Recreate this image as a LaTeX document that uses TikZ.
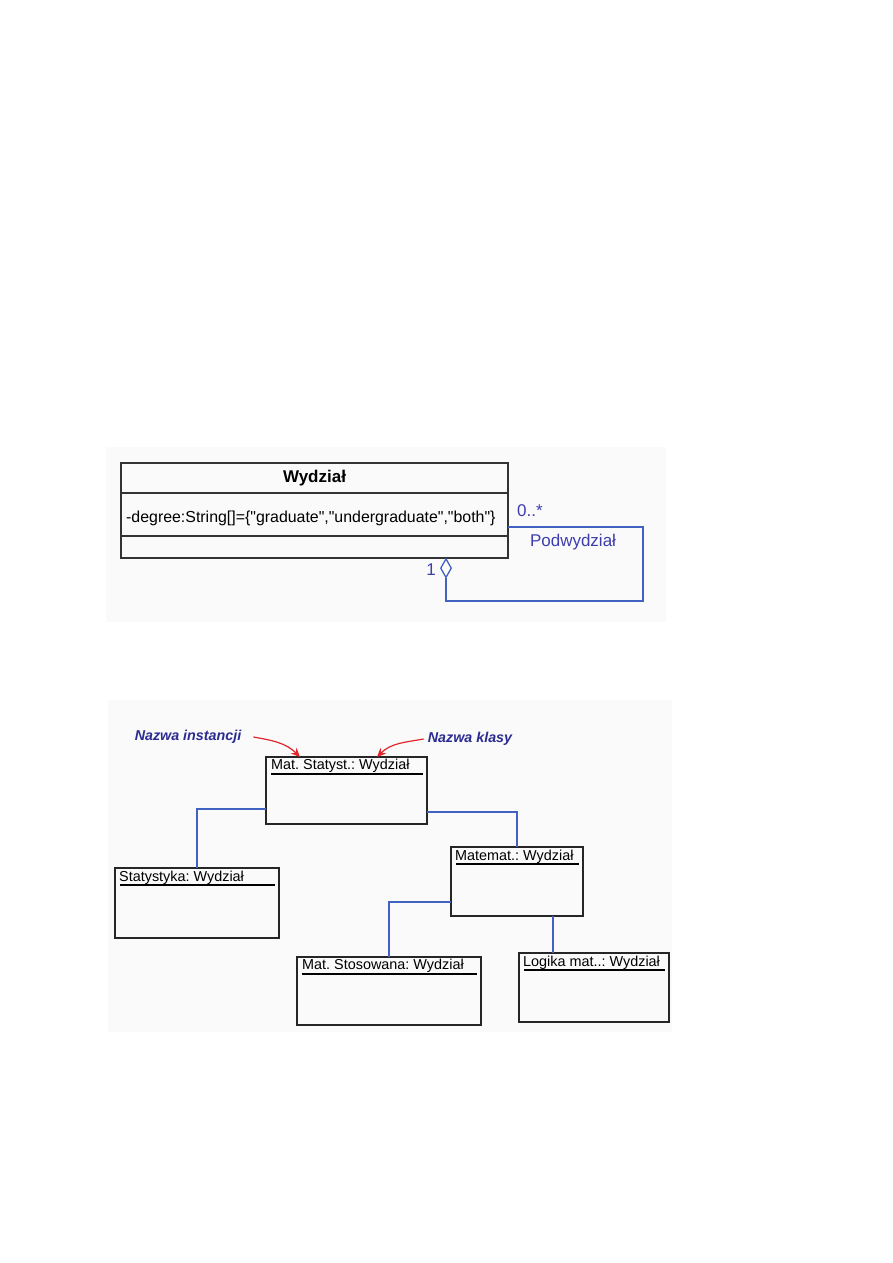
\documentclass[tikz,border=0pt]{standalone}
\usepackage{fontspec}
\setmainfont{Liberation Sans}[Ligatures=TeXOff]
\usetikzlibrary{positioning, arrows.meta, shapes.geometric}
\definecolor{LinkBlue}{HTML}{4262C2}
\definecolor{MultBlue}{HTML}{3D3DB0}
\definecolor{NoteBlue}{HTML}{2B2B92}
\definecolor{PointRed}{HTML}{E2262B}
\definecolor{ShotGray}{HTML}{FAFAFA}

\begin{document}
\frenchspacing
\begin{tikzpicture}[
  x=1pt, y=1pt,
  classpart/.style={rectangle, draw=black!80, line width=1.2pt, minimum width=387pt,
    outer sep=0pt, inner sep=0pt},
  objbox/.style={rectangle, draw=black!85, line width=1.3pt, outer sep=0pt},
  objtitle/.style={anchor=base west, inner sep=0pt, font=\fontsize{14.4}{16}\selectfont},
  assoc/.style={draw=LinkBlue, line width=1.3pt},
  link/.style={draw=LinkBlue, line width=1.3pt},
  mult/.style={text=MultBlue, font=\fontsize{17}{19}\selectfont, inner sep=0pt},
  note/.style={text=NoteBlue, font=\fontsize{14.3}{16}\selectfont\bfseries\itshape, inner sep=0pt},
  pointer/.style={-{Stealth[length=9pt, width=8pt]}, color=PointRed, line width=1.2pt}
]
  \useasboundingbox (0,0) rectangle (893,-1263);
  \fill[ShotGray] (106,-447) rectangle (666,-622);
  \fill[ShotGray] (108,-700) rectangle (672,-1032);

  % class Wydzial
  \node[classpart, minimum height=30pt, font=\fontsize{17}{19}\selectfont\bfseries] (title) at (314.5,-478) {Wydział};
  \node[classpart, minimum height=43pt, below=0pt of title] (attr) {};
  \node[classpart, minimum height=22pt, below=0pt of attr] (ops) {};
  \node[anchor=base west, inner sep=0pt, font=\fontsize{15.9}{18}\selectfont] (attrtext) at ([xshift=5pt, yshift=-8pt]attr.west)
    {-degree:String[]=\{"graduate","undergraduate","both"\}};
  \node[diamond, draw=LinkBlue, line width=1.3pt, fill=white, minimum width=11pt, minimum height=19pt,
    inner sep=0pt, anchor=north] (agg) at (446,-558) {};

  \draw[assoc] ([yshift=-12.5pt]attr.east) -| (643,-601) -| (agg.south);
  \node[mult] (many) at (530,-511) {0..*};
  \node[mult] (one) at (431,-570) {1};
  \node[mult] (role) at (573,-542) {Podwydział};

  % instances
  \node[objbox, minimum width=161pt, minimum height=67pt] (statyst) at (346.5,-790.5) {};
  \node[objbox, minimum width=164pt, minimum height=70pt] (statystyka) at (197,-903) {};
  \node[objbox, minimum width=132pt, minimum height=69pt] (matemat) at (517,-881.5) {};
  \node[objbox, minimum width=184pt, minimum height=68pt] (stosowana) at (389,-991) {};
  \node[objbox, minimum width=150pt, minimum height=69pt] (logika) at (594,-987.5) {};

  \node[objtitle] at ([xshift=5pt, yshift=-12.5pt]statyst.north west) {Mat. Statyst.: Wydział};
  \node[objtitle] at ([xshift=4pt, yshift=-13.5pt]statystyka.north west) {Statystyka: Wydział};
  \node[objtitle] at ([xshift=4pt, yshift=-13pt]matemat.north west) {Matemat.: Wydział};
  \node[objtitle] at ([xshift=5pt, yshift=-12.5pt]stosowana.north west) {Mat. Stosowana: Wydział};
  \node[objtitle] at ([xshift=4pt, yshift=-13pt]logika.north west) {Logika mat..: Wydział};

  \foreach \obj in {statyst, statystyka, matemat, stosowana, logika}
    \draw[line width=1.2pt] ([xshift=5pt, yshift=-17pt]\obj.north west) -- ([xshift=-4pt, yshift=-17pt]\obj.north east);

  \draw[link] ([yshift=-18.5pt]statyst.west) -| (statystyka.north);
  \draw[link] ([yshift=-21.5pt]statyst.east) -| (matemat.north);
  \draw[link] ([yshift=-20.5pt]matemat.west) -| (stosowana.north);
  \draw[link] ([xshift=36pt]matemat.south) -- ([xshift=36pt]matemat.south |- logika.north);

  % annotations
  \node[note] (inst) at (188,-737) {Nazwa instancji};
  \node[note] (klasa) at (470,-739) {Nazwa klasy};
  \draw[pointer] ([xshift=12pt]inst.east) to[out=-10, in=135] ([xshift=-46.5pt]statyst.north);
  \draw[pointer] ([xshift=-4pt]klasa.west) to[out=190, in=45] ([xshift=30.5pt]statyst.north);
\end{tikzpicture}
\end{document}
